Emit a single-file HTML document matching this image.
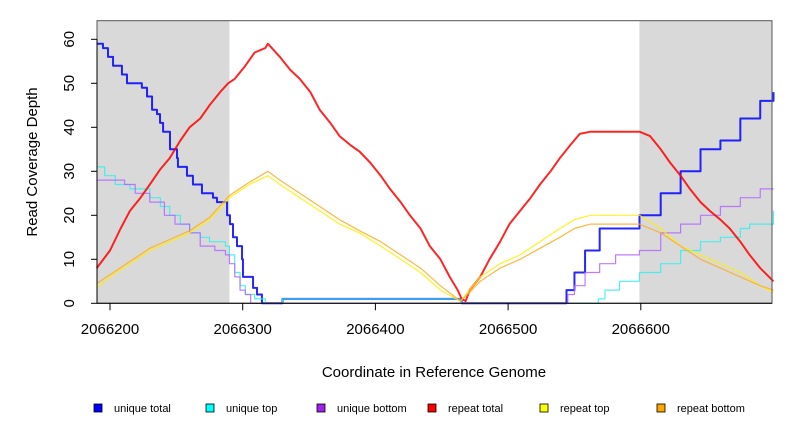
<!DOCTYPE html>
<html><head><meta charset="utf-8"><style>
body{margin:0;background:#fff}
svg{display:block;font-family:"Liberation Sans",sans-serif}
</style></head><body>
<svg id="chart" width="792" height="432" xmlns="http://www.w3.org/2000/svg">
<g id="plot"></g>
<g id="axes"></g>
<text x="37" y="162" font-size="15" text-anchor="middle" transform="rotate(-90 37 162)">Read Coverage Depth</text>
<text x="434" y="377" font-size="15" text-anchor="middle">Coordinate in Reference Genome</text>
<g id="legend"></g>
</svg>
<script>
const B = 2066200;
const xTicks = [2066200, 2066300, 2066400, 2066500, 2066600];
const yTicks = [0, 10, 20, 30, 40, 50, 60];
const shadeRegions = [[2066190, 2066290], [2066599, 2066700]];

const uniqueTotalX = [-10,-5.3,-1.5,2.3,9,12.8,24,27.9,31.7,35.4,37.7,40,45.2,50.5,51.2,58,62.5,69.3,77.6,80.6,88.2,90.4,92.7,95.7,99.5,100.2,107.8,110.8,114.5,130,264,265,343,344,350,358,369,399,415,430,445,460,475,490,500];
const uniqueTotalY = [59,58,56,54,52,50,49,47,44,43,41,39,35,33,31,29,27,25,24,23,20,18,15,13,10,6,3.5,2,0,1,1,0,0,3,7,12,17,20,25,30,35,37,42,46,48];
const uniqueTopX = [-10,-4,4,15,30,38,45,53,60,68,75,87,90,94,98,102,109,117,130,264,265,368,373,384,399,415,430,445,460,475,482,500];
const uniqueTopY = [31,29,27,26,24,22,20,18,16,15,14,13,11,7,4,2,1,0,1,1,0,1,3,5,7,9,12,14,15,17,18,21];
const uniqueBottomX = [-10,11,19,30,41,49,60,68,79,87,90,94,98,102,106,345,350,358,369,381,399,415,430,445,460,475,490,500];
const uniqueBottomY = [28,27,25,23,20,18,16,13,12,11,9,6,3,2,0,2,4,7,9,11,12,16,18,20,22,24,26,26];
const repeatTotalX = [-10,0,8,15,23,30,38,45,53,60,68,75,83,89,94,102,109,117,119,128,136,143,151,158,166,173,181,188,196,204,211,219,226,234,241,249,256,262,265,268,271,279,286,294,301,309,317,324,332,339,347,354,362,369,399,407,415,422,430,437,445,452,460,467,475,482,490,500];
const repeatTotalY = [8,12,17,21,24,27,30.5,33,37,40,42,45,48,50,51,54,57,58,59,56,53,51,48,44,41,38,36,34.5,32,29,26,23,20,17,13,10,6,3,1,0.5,3,6,10,14,18,21,24,27,30,33,36,38.5,39,39,39,38,35,32,29,26,23,21,19,17,14,11,8,5];
const repeatTopX = [-10,0,15,30,45,60,75,90,105,119,128,143,158,173,188,204,219,234,249,264,271,279,294,309,324,339,350,362,399,415,430,445,460,475,490,500];
const repeatTopY = [3.5,6,9,12,14,16,19,24,27,29,27,24,21,18,16,13,10,7,3,0.5,3,6,9,11,14,17,19,20,20,17,13,11,9,7,4,2.5];
const repeatBottomX = [-10,0,15,30,45,60,75,90,105,119,128,143,158,173,188,204,219,234,249,264,271,279,294,309,324,339,350,362,399,415,430,445,460,475,490,500];
const repeatBottomY = [4.5,6.5,9.5,12.5,14.5,16.5,19.5,24.5,27.5,30,28,25,22,19,16.5,14,11,8,4,0.5,2.5,5,8,10,12.5,15,17,18,18,16,13,10,8,6,4,3];

const series = [
  {name:'unique-total', x:uniqueTotalX, y:uniqueTotalY, color:'#0000ff', w:2, step:true},
  {name:'unique-top', x:uniqueTopX, y:uniqueTopY, color:'#33eeee', w:1.2, step:true},
  {name:'unique-bottom', x:uniqueBottomX, y:uniqueBottomY, color:'#b266ff', w:1.2, step:true},
  {name:'repeat-total', x:repeatTotalX, y:repeatTotalY, color:'#ff0000', w:2, step:false},
  {name:'repeat-top', x:repeatTopX, y:repeatTopY, color:'#ffee00', w:1.2, step:false},
  {name:'repeat-bottom', x:repeatBottomX, y:repeatBottomY, color:'#ffaa22', w:1.2, step:false}
];
const legendLabels = ['unique total','unique top','unique bottom','repeat total','repeat top','repeat bottom'];
const legendColors = ['#0000ff','#00ffff','#a020f0','#ff0000','#ffff00','#ffa500'];

const X0=97, X1=772, Y0=20.7, Y1=303.3;
function sx(c){ return 110 + (c - B) * 1.327; }
function sy(v){ return 303.3 - v * 4.4; }
const NS='http://www.w3.org/2000/svg';
function mk(tag, attrs, parent){ const e=document.createElementNS(NS,tag); for(const k in attrs) e.setAttribute(k,attrs[k]); parent.appendChild(e); return e; }

const plot=document.getElementById('plot');
shadeRegions.forEach(r=>{
  const a=Math.max(X0,sx(r[0])), b=Math.min(X1,sx(r[1]));
  const e=mk('rect',{x:a,y:Y0,width:b-a,height:Y1-Y0,fill:'#d9d9d9'},plot);
  
  
});
series.forEach(s=>{
  let d='';
  for(let i=0;i<s.x.length;i++){
    const px=sx(B+s.x[i]), py=sy(s.y[i]);
    if(i===0) d+='M'+px+' '+py;
    else if(s.step) d+=' H'+px+' V'+py;
    else d+=' L'+px+' '+py;
  }
  const e=mk('path',{d:d,fill:'none',stroke:s.color,'stroke-width':s.w,'stroke-linejoin':'round','stroke-opacity':0.85},plot);
  
  
});
const ax=document.getElementById('axes');
mk('rect',{x:X0,y:Y0,width:X1-X0,height:Y1-Y0,fill:'none',stroke:'#555','stroke-width':1},ax);
mk('line',{x1:X0,y1:Y1,x2:X1,y2:Y1,stroke:'#000','stroke-width':1},ax);
yTicks.forEach(t=>{
  const y=sy(t);
  mk('line',{x1:X0-6,y1:y,x2:X0,y2:y,stroke:'#000'},ax);
  const e=mk('text',{x:74,y:y,'font-size':15,'text-anchor':'middle',transform:'rotate(-90 74 '+y+')'},ax);
  e.textContent=t;
  
  
});
mk('line',{x1:X0,y1:39.3,x2:X0,y2:Y1,stroke:'#000'},ax);
xTicks.forEach(t=>{
  const x=sx(t);
  mk('line',{x1:x,y1:Y1,x2:x,y2:Y1+7,stroke:'#000'},ax);
  const e=mk('text',{x:x,y:334,'font-size':15,'text-anchor':'middle'},ax);
  e.textContent=t;
  
  
});
const lg=document.getElementById('legend');
const lx=[94,206,317,428,540,657];
legendLabels.forEach((l,i)=>{
  const g=mk('g',{},lg);
  
  
  mk('rect',{x:lx[i],y:404,width:8,height:8,fill:legendColors[i],stroke:'#000','stroke-width':0.8},g);
  const t=mk('text',{x:lx[i]+20,y:412,'font-size':11},g);
  t.textContent=l;
});
</script>
</body></html>
